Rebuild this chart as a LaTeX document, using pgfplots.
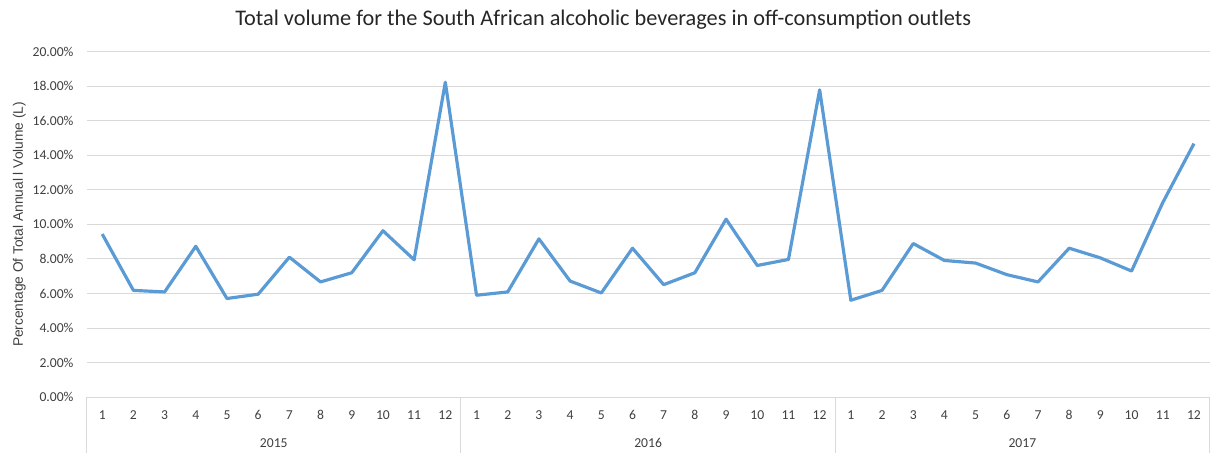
\documentclass[border=0pt]{standalone}
\usepackage{pgfplots}
\pgfplotsset{compat=1.18}
\usepackage{fontspec}
\setmainfont{Carlito}
\newfontfamily\arialf{Liberation Sans}
\definecolor{lineblue}{HTML}{5B9BD5}
\definecolor{gridgray}{HTML}{D9D9D9}
\definecolor{txtgray}{HTML}{404040}
\begin{document}
\begin{tikzpicture}
\begin{axis}[
  scale only axis, width=1128pt, height=347.3pt,
  xmin=0.5, xmax=36.5, ymin=0, ymax=20,
  axis x line*=bottom, axis y line*=left,
  x axis line style={draw=gridgray, line width=0.9pt, -},
  y axis line style={draw=none},
  major tick length=0pt,
  ytick={0,2,...,20},
  /pgf/number format/assume math mode=true,
  yticklabel={\pgfmathprintnumber[fixed,fixed zerofill,precision=2]{\tick}\%},
  yticklabel style={font=\fontsize{13.7}{16}\selectfont, text=txtgray, anchor=east, inner sep=0pt, xshift=-13pt},
  xtick={1,2,...,36},
  xticklabels={1,2,3,4,5,6,7,8,9,10,11,12,1,2,3,4,5,6,7,8,9,10,11,12,1,2,3,4,5,6,7,8,9,10,11,12},
  xticklabel style={font=\fontsize{13.7}{16}\selectfont, text=txtgray, anchor=center, inner sep=0pt, yshift=-18pt},
  ymajorgrids, major grid style={draw=gridgray, line width=0.9pt},
  clip=false,
]
\addplot[lineblue, line width=3.2pt, line join=round, mark=none] coordinates {
(1,9.44) (2,6.18) (3,6.09) (4,8.73) (5,5.71) (6,5.96) (7,8.10) (8,6.67) (9,7.20) (10,9.63) (11,7.95) (12,18.22)
(13,5.90) (14,6.09) (15,9.16) (16,6.72) (17,6.03) (18,8.62) (19,6.51) (20,7.20) (21,10.30) (22,7.62) (23,7.97) (24,17.78)
(25,5.61) (26,6.18) (27,8.89) (28,7.91) (29,7.76) (30,7.09) (31,6.67) (32,8.62) (33,8.06) (34,7.30) (35,11.26) (36,14.67)
};
\draw[gridgray, line width=0.9pt] (axis cs:0.5,0) -- ([yshift=-56pt]axis cs:0.5,0);
\draw[gridgray, line width=0.9pt] (axis cs:12.5,0) -- ([yshift=-56pt]axis cs:12.5,0);
\draw[gridgray, line width=0.9pt] (axis cs:24.5,0) -- ([yshift=-56pt]axis cs:24.5,0);
\draw[gridgray, line width=0.9pt] (axis cs:36.5,0) -- ([yshift=-56pt]axis cs:36.5,0);
\node[font=\fontsize{13.7}{16}\selectfont, text=txtgray] at ([yshift=-46pt]axis cs:6.5,0) {2015};
\node[font=\fontsize{13.7}{16}\selectfont, text=txtgray] at ([yshift=-46pt]axis cs:18.5,0) {2016};
\node[font=\fontsize{13.7}{16}\selectfont, text=txtgray] at ([yshift=-46pt]axis cs:30.5,0) {2017};
\end{axis}
\node[anchor=base, font=\fontsize{22.4}{26}\selectfont, text=black!85] at ([xshift=-45pt, yshift=25.7pt]current axis.north) {Total volume for the South African alcoholic beverages in off-consumption outlets};
\node[rotate=90, anchor=base, font=\arialf\fontsize{13.8}{16}\selectfont, text=txtgray] at ([xshift=-64pt]current axis.west) {Percentage Of Total Annual l Volume (L)};
\path[use as bounding box] ([xshift=-87pt,yshift=-56pt]current axis.south west) rectangle ([xshift=-5pt, yshift=51.7pt]current axis.north east);
\end{tikzpicture}
\end{document}
